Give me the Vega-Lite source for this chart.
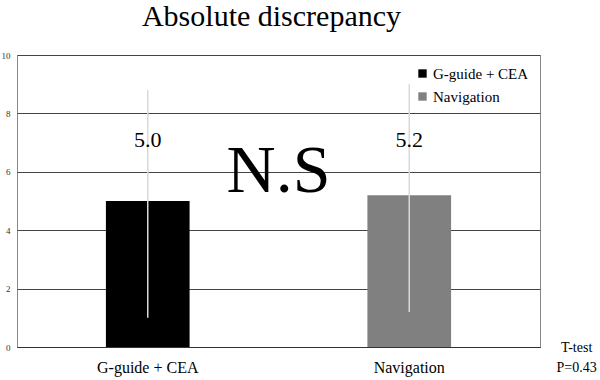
{
  "$schema": "https://vega.github.io/schema/vega-lite/v6.json",
  "autosize": {"type": "none"},
  "width": 523,
  "height": 292,
  "padding": {"left": 17, "top": 55, "right": 60, "bottom": 33},
  "background": "white",
  "config": {
    "font": "Liberation Serif",
    "view": {"stroke": "#888888", "strokeWidth": 1},
    "title": {"font": "Liberation Serif", "fontWeight": "normal"},
    "axis": {"labelFont": "Liberation Serif"},
    "legend": {"labelFont": "Liberation Serif"},
    "text": {"font": "Liberation Serif"}
  },
  "title": {
    "text": "Absolute discrepancy",
    "font": "Liberation Serif",
    "fontSize": 30,
    "fontWeight": "normal",
    "color": "#000000",
    "anchor": "middle",
    "dx": -7,
    "offset": 19
  },
  "datasets": {
    "bars": [
      {"group": "G-guide + CEA", "mean": 5.0, "lo": 1.0, "hi": 8.8, "label": "5.0"},
      {"group": "Navigation", "mean": 5.2, "lo": 1.2, "hi": 9.0, "label": "5.2"}
    ],
    "notes": [
      {"pos": 0.5, "yv": 6.0, "text": "N.S", "kind": "big"},
      {"pos": 1.07, "yv": -0.03, "text": "T-test", "kind": "small"},
      {"pos": 1.07, "yv": -0.72, "text": "P=0.43", "kind": "small"}
    ]
  },
  "layer": [
    {
      "data": {"name": "bars"},
      "encoding": {
        "x": {
          "field": "group",
          "type": "nominal",
          "sort": null,
          "scale": {"paddingInner": 0.68, "paddingOuter": 0.34},
          "axis": {
            "title": null,
            "labelAngle": 0,
            "labelFont": "Liberation Serif",
            "labelFontSize": 16,
            "labelColor": "#000000",
            "labelPadding": 12,
            "ticks": false,
            "domainColor": "#333333",
            "domainWidth": 1
          }
        }
      },
      "layer": [
        {
          "mark": {"type": "bar"},
          "encoding": {
            "y": {
              "field": "mean",
              "type": "quantitative",
              "scale": {"domain": [0, 10], "nice": false},
              "axis": {
                "title": null,
                "values": [0, 2, 4, 6, 8, 10],
                "labelFont": "Liberation Serif",
                "labelFontSize": 9,
                "labelColor": "#333333",
                "labelPadding": 7,
                "ticks": false,
                "domain": false,
                "grid": true,
                "gridColor": "#444444",
                "gridWidth": 1
              }
            },
            "color": {
              "field": "group",
              "type": "nominal",
              "sort": null,
              "scale": {"domain": ["G-guide + CEA", "Navigation"], "range": ["#000000", "#808080"]},
              "legend": {
                "title": null,
                "orient": "none",
                "legendX": 398,
                "legendY": 11,
                "symbolType": "square",
                "symbolSize": 70,
                "symbolStrokeWidth": 0,
                "labelFont": "Liberation Serif",
                "labelFontSize": 15,
                "labelColor": "#000000",
                "rowPadding": 7,
                "labelOffset": 3
              }
            }
          }
        },
        {
          "mark": {"type": "rule", "color": "#d9d9d9", "strokeWidth": 1.5},
          "encoding": {
            "y": {"field": "lo", "type": "quantitative"},
            "y2": {"field": "hi"}
          }
        },
        {
          "mark": {"type": "text", "font": "Liberation Serif", "fontSize": 22, "color": "#000000", "baseline": "middle"},
          "encoding": {
            "y": {"datum": 7.1, "type": "quantitative"},
            "text": {"field": "label"}
          }
        }
      ]
    },
    {
      "data": {"name": "notes"},
      "transform": [{"filter": "datum.kind === 'big'"}],
      "mark": {"type": "text", "font": "Liberation Serif", "fontSize": 68, "color": "#000000", "baseline": "middle", "align": "center"},
      "encoding": {
        "x": {"field": "pos", "type": "quantitative", "scale": {"domain": [0, 1], "nice": false, "zero": false}, "axis": null},
        "y": {"field": "yv", "type": "quantitative"},
        "text": {"field": "text"}
      }
    },
    {
      "data": {"name": "notes"},
      "transform": [{"filter": "datum.kind === 'small'"}],
      "mark": {"type": "text", "font": "Liberation Serif", "fontSize": 14, "color": "#000000", "baseline": "middle", "align": "center"},
      "encoding": {
        "x": {"field": "pos", "type": "quantitative", "scale": {"domain": [0, 1], "nice": false, "zero": false}, "axis": null},
        "y": {"field": "yv", "type": "quantitative"},
        "text": {"field": "text"}
      }
    }
  ],
  "resolve": {"scale": {"x": "independent"}}
}
